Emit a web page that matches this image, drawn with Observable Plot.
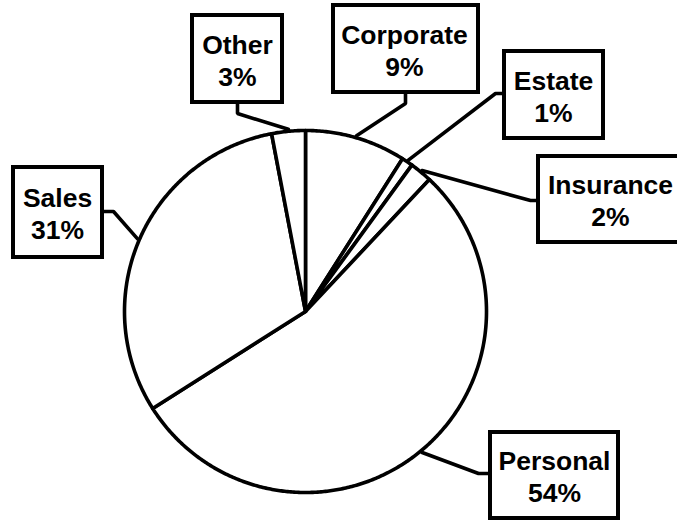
<!DOCTYPE html>
<html>
<head>
<meta charset="utf-8">
<script src="https://cdn.jsdelivr.net/npm/d3@7"></script>
<script src="https://cdn.jsdelivr.net/npm/@observablehq/plot@0.6"></script>
<style>
  html, body { margin: 0; padding: 0; background: #ffffff; }
  #chart svg { display: block; }
</style>
</head>
<body>
<div id="chart"></div>
<script>
// ---- data ----
const categories = ["Corporate", "Estate", "Insurance", "Personal", "Sales", "Other"];
const shares = [9, 1, 2, 54, 31, 3];

// ---- layout (pixels) ----
const W = 677, H = 520;
const pieCenter = [305, 311];
const pieRadius = 181;
// label boxes: [x1, x2, y1, y2], leader anchor on box, leader elbow
const boxRects = [
  [333, 478, 5, 92],     // Corporate
  [504, 603, 51, 138],   // Estate
  [538, 684, 156, 242],  // Insurance
  [490, 618, 432, 518],  // Personal
  [13, 102, 167, 257],   // Sales
  [192, 282, 15, 102]    // Other
];
const leaderAnchors = [[405, 92], [504, 93], [538, 200], [490, 473], [102, 211], [237, 102]];
const leaderElbows  = [[405, 103], [495, 93], [530, 200], [478, 473], [113, 211], [237, 113]];
const textCenters = [[404, 49], [553, 95], [610, 199], [554, 475], [57, 212], [237, 59]];

// ---- geometry from data ----
const arcs = d3.pie().sort(null).value(d => d)(shares);
const [cx, cy] = pieCenter;
const pt = (a, r) => [cx + r * Math.sin(a), cy - r * Math.cos(a)];

const slicePts = [];
arcs.forEach((arc, i) => {
  const name = categories[i];
  slicePts.push({name, x: cx, y: cy});
  const n = Math.max(2, Math.ceil((arc.endAngle - arc.startAngle) / (Math.PI / 360)));
  for (let k = 0; k <= n; k++) {
    const a = arc.startAngle + (arc.endAngle - arc.startAngle) * k / n;
    const [x, y] = pt(a, pieRadius);
    slicePts.push({name, x, y});
  }
  slicePts.push({name, x: cx, y: cy});
});

const leaderPts = [];
arcs.forEach((arc, i) => {
  const name = categories[i];
  const mid = (arc.startAngle + arc.endAngle) / 2;
  const [ex, ey] = pt(mid, pieRadius + 2);
  leaderPts.push({name, x: leaderAnchors[i][0], y: leaderAnchors[i][1]});
  leaderPts.push({name, x: leaderElbows[i][0], y: leaderElbows[i][1]});
  leaderPts.push({name, x: ex, y: ey});
});

const boxes = categories.map((name, i) => ({
  name,
  x1: boxRects[i][0], x2: boxRects[i][1], y1: boxRects[i][2], y2: boxRects[i][3],
  tx: textCenters[i][0], ty: textCenters[i][1],
  label: `${name}\n${shares[i]}%`
}));

const chart = Plot.plot({
  width: W,
  height: H,
  margin: 0,
  x: {domain: [0, W], range: [0, W], axis: null},
  y: {domain: [0, H], range: [0, H], axis: null},
  style: {background: "#ffffff", overflow: "hidden"},
  marks: [
    Plot.line(slicePts, {x: "x", y: "y", z: "name", fill: "#ffffff", stroke: "#000000",
      strokeWidth: 3.6, strokeLinejoin: "round", curve: "linear"}),
    Plot.line(leaderPts, {x: "x", y: "y", z: "name", stroke: "#000000",
      strokeWidth: 3.6, strokeLinejoin: "miter", curve: "linear"}),
    Plot.rect(boxes, {x1: "x1", x2: "x2", y1: "y1", y2: "y2", fill: "#ffffff",
      stroke: "#000000", strokeWidth: 4}),
    Plot.text(boxes, {x: "tx", y: "ty", text: "label", lineAnchor: "middle",
      lineHeight: 1.2, fontSize: 26.5, fontWeight: "bold",
      fontFamily: "Liberation Sans, Arial, Helvetica, sans-serif", fill: "#000000"})
  ]
});
document.getElementById("chart").appendChild(chart);
</script>
</body>
</html>
